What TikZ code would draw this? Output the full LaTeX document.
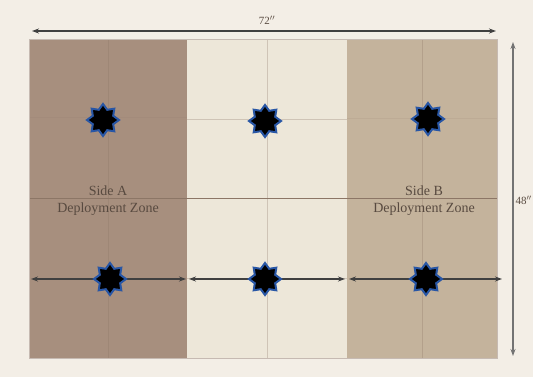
\documentclass[tikz,border=0pt]{standalone}
\usepackage{fontspec}
\setmainfont{Liberation Serif}
\usetikzlibrary{shapes.geometric,arrows.meta}
\definecolor{paper}{RGB}{243,238,230}
\definecolor{zoneA}{RGB}{167,143,126}
\definecolor{noman}{RGB}{237,231,217}
\definecolor{zoneB}{RGB}{196,179,156}
\definecolor{gridline}{RGB}{140,118,102}
\definecolor{inktext}{RGB}{88,74,64}
\definecolor{starblue}{RGB}{40,86,165}
\tikzset{
  objective/.style={star, star points=8, star point ratio=1.45, minimum size=32pt,
    inner sep=0pt, fill=black, draw=starblue, line width=2pt},
  measure/.style={draw=black!75, line width=1.1pt, {Stealth[length=7pt,width=5pt]}-{Stealth[length=7pt,width=5pt]}},
  zonelabel/.style={text=inktext, font=\fontsize{14}{17}\selectfont, align=center}
}
\begin{document}
\begin{tikzpicture}[x=1pt,y=-1pt]
        %board
        \useasboundingbox[fill=paper] (0,0) rectangle (533,377);
        \fill[zoneA] (29,39) rectangle (187,358);
        \fill[noman] (187,39) rectangle (347,358);
        \fill[zoneB] (347,39) rectangle (497,358);
        \draw[gridline, draw opacity=0.3, line width=0.5pt] (108,39)--(108,358) (267,39)--(267,358) (422,39)--(422,358);
        \draw[gridline, draw opacity=0.3, line width=0.5pt] (187,119)--(347,119) (187,278)--(347,278);
        \draw[gridline, draw opacity=0.12, line width=0.5pt] (29,117)--(187,117) (347,118)--(497,118);
        \draw[gridline, line width=0.8pt] (29,198)--(497,198);
        \draw[gridline!50, line width=0.5pt] (29,39) rectangle (497,358);
        % \node at (267,198) {centre};
        \node[zonelabel] (sideA) at (108,201) {Side A\\Deployment Zone};
        \node[zonelabel] (sideB) at (424,201) {Side B\\Deployment Zone};
        %measurements
        \coordinate (topL) at (32,31); \coordinate (topR) at (496,31);
        \coordinate (sideT) at (513,42); \coordinate (sideD) at (513,356);
        \draw[measure] (topL)--(topR);
        \node[text=inktext, font=\fontsize{11}{13}\selectfont] (wide) at (267,20) {72$''$};
        \draw[measure, draw=black!55] (sideT)--(sideD);
        \node[text=inktext, font=\fontsize{11}{13}\selectfont, anchor=east, inner sep=1pt] (high) at (533,200) {48$''$};
        \coordinate (aL) at (31,279); \coordinate (aR) at (186,279);
        \coordinate (nL) at (189,279); \coordinate (nR) at (345,279);
        \coordinate (bL) at (349,279); \coordinate (bR) at (502,279);
        \draw[measure] (aL)--(aR); \draw[measure] (nL)--(nR); \draw[measure] (bL)--(bR);
        %objectives
        \node[objective] (objA1) at (103,120) {};
        \node[objective] (objN1) at (265,121) {};
        \node[objective] (objB1) at (428,119) {};
        \node[objective] (objA2) at (110,279) {};
        \node[objective] (objN2) at (265,279) {};
        \node[objective] (objB2) at (426,279) {};
    \end{tikzpicture}
\end{document}
